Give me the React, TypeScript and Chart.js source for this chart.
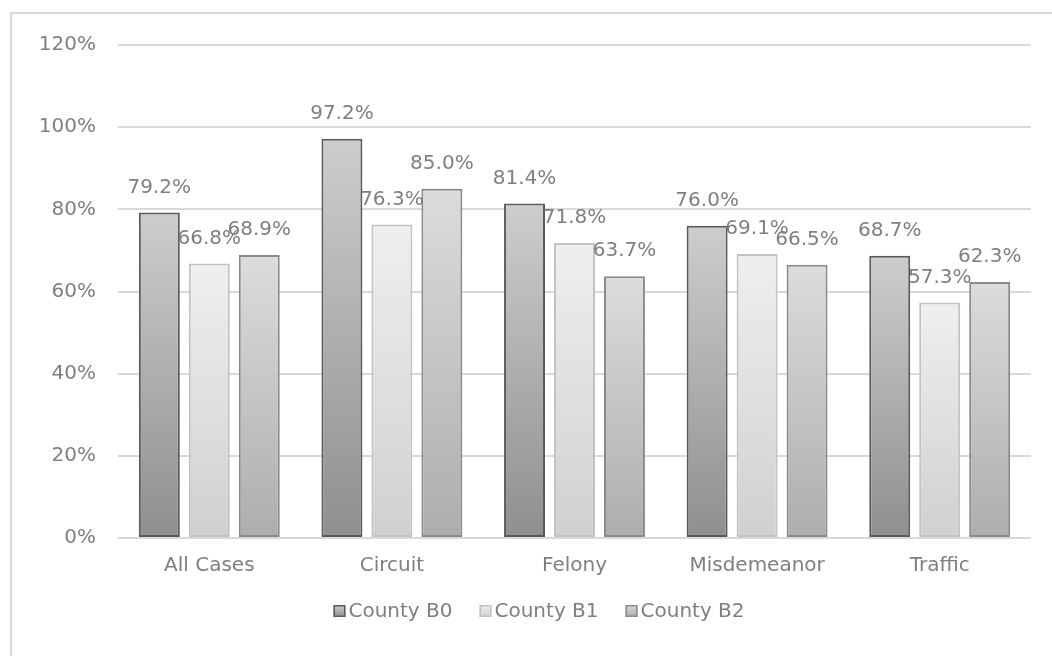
import React, { useEffect, useRef } from "react";
import { Chart, registerables } from "chart.js";

Chart.register(...registerables);

const categories = ["All Cases", "Circuit", "Felony", "Misdemeanor", "Traffic"];
const seriesNames = ["County B0", "County B1", "County B2"];
const countyB0 = [79.2, 97.2, 81.4, 76.0, 68.7];
const countyB1 = [66.8, 76.3, 71.8, 69.1, 57.3];
const countyB2 = [68.9, 85.0, 63.7, 66.5, 62.3];
const yTicks = [0, 20, 40, 60, 80, 100, 120];

const FONT = "'DejaVu Sans', sans-serif";
const TEXT = "#7f7f7f";
const GRID = "#d9d9d9";

const styles = [
  { top: "#cdcdcd", bottom: "#8f8f8f", border: "#5a5a5a" },
  { top: "#efefef", bottom: "#d0d0d0", border: "#c2c2c2" },
  { top: "#dcdcdc", bottom: "#adadad", border: "#8a8a8a" },
];

function barGradient(idx: number) {
  return (ctx: any) => {
    const chart = ctx.chart;
    const y = chart.scales?.y;
    const st = styles[idx];
    if (!y || ctx.raw === undefined) return st.top;
    const top = y.getPixelForValue(ctx.raw);
    const base = y.getPixelForValue(0);
    if (!isFinite(top) || !isFinite(base) || top === base) return st.top;
    const g = chart.ctx.createLinearGradient(0, top, 0, base);
    g.addColorStop(0, st.top);
    g.addColorStop(1, st.bottom);
    return g;
  };
}

const framePlugin = {
  id: "frame",
  beforeDraw(chart: any) {
    const c = chart.ctx;
    c.save();
    c.strokeStyle = GRID;
    c.lineWidth = 2;
    c.beginPath();
    c.moveTo(11, chart.height);
    c.lineTo(11, 13);
    c.lineTo(chart.width, 13);
    c.stroke();
    c.restore();
  },
};

const labelPlugin = {
  id: "valueLabels",
  afterDatasetsDraw(chart: any) {
    const c = chart.ctx;
    c.save();
    c.font = `20px ${FONT}`;
    c.fillStyle = TEXT;
    c.textAlign = "center";
    c.textBaseline = "alphabetic";
    chart.data.datasets.forEach((ds: any, di: number) => {
      const meta = chart.getDatasetMeta(di);
      meta.data.forEach((el: any, i: number) => {
        const v = ds.data[i];
        c.fillText(v.toFixed(1) + "%", el.x, el.y - 20);
      });
    });
    c.restore();
  },
};

const legendPlugin = {
  id: "customLegend",
  afterDraw(chart: any) {
    const c = chart.ctx;
    c.save();
    c.font = `20px ${FONT}`;
    c.textBaseline = "middle";
    c.textAlign = "left";
    const box = 12;
    const gapBoxText = 3;
    const gapItems = 27;
    const widths = seriesNames.map((n) => c.measureText(n).width);
    const total =
      widths.reduce((a, w) => a + box + gapBoxText + w, 0) + gapItems * (seriesNames.length - 1);
    let x = 539 - total / 2;
    const yc = 611;
    seriesNames.forEach((n, i) => {
      const st = styles[i];
      const g = c.createLinearGradient(0, yc - box / 2, 0, yc + box / 2);
      g.addColorStop(0, st.top);
      g.addColorStop(1, st.bottom);
      c.fillStyle = g;
      c.fillRect(x, yc - box / 2, box, box);
      c.strokeStyle = st.border;
      c.lineWidth = 1.5;
      c.strokeRect(x + 0.75, yc - box / 2 + 0.75, box - 1.5, box - 1.5);
      c.fillStyle = TEXT;
      c.fillText(n, x + box + gapBoxText, yc + 1);
      x += box + gapBoxText + widths[i] + gapItems;
    });
    c.restore();
  },
};

export default function App() {
  const ref = useRef<HTMLCanvasElement | null>(null);
  useEffect(() => {
    if (!ref.current) return;
    const data = [countyB0, countyB1, countyB2];
    const chart = new Chart(ref.current, {
      type: "bar",
      data: {
        labels: categories,
        datasets: seriesNames.map((name, i) => ({
          label: name,
          data: data[i],
          backgroundColor: barGradient(i),
          borderColor: styles[i].border,
          borderWidth: 2,
          borderSkipped: false,
          categoryPercentage: 0.821,
          barPercentage: 0.82,
        })),
      },
      options: {
        animation: false,
        responsive: false,
        maintainAspectRatio: false,
        layout: { padding: { top: 45, right: 21, bottom: 62, left: 0 } },
        plugins: {
          legend: { display: false },
          tooltip: { enabled: false },
        },
        scales: {
          x: {
            grid: { display: false, drawTicks: false },
            border: { display: false },
            ticks: { color: TEXT, font: { family: FONT, size: 20 }, padding: 16 },
          },
          y: {
            min: 0,
            max: 120,
            afterFit: (s: any) => {
              s.width = 118;
            },
            afterBuildTicks: (s: any) => {
              s.ticks = yTicks.map((v) => ({ value: v }));
            },
            grid: { color: GRID, lineWidth: 2, drawTicks: false },
            border: { display: false },
            ticks: {
              color: TEXT,
              font: { family: FONT, size: 20 },
              padding: 22,
              callback: (v: any) => v + "%",
            },
          },
        },
      },
      plugins: [framePlugin, labelPlugin, legendPlugin],
    });
    return () => chart.destroy();
  }, []);
  return (
    <div style={{ position: "fixed", left: 0, top: 0, width: 1052, height: 656, background: "#fff" }}>
      <canvas ref={ref} width={1052} height={656} style={{ width: 1052, height: 656 }} />
    </div>
  );
}
